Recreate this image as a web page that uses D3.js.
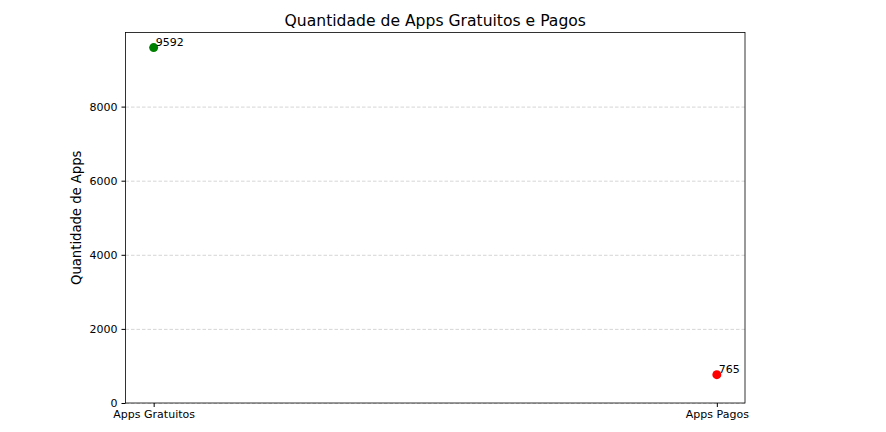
<!DOCTYPE html>
<html>
<head>
<meta charset="utf-8">
<script src="https://cdn.jsdelivr.net/npm/d3@7"></script>
<style>
  body { margin: 0; background: #fff; }
  text { font-family: "DejaVu Sans", sans-serif; }
  .grid line { stroke: #ccc; stroke-dasharray: 3.5,2; stroke-width: 0.8; }
  .grid .domain { display: none; }
</style>
</head>
<body>
<div id="chart"></div>
<script>
// Data
const categories = ["Apps Gratuitos", "Apps Pagos"];
const counts = [9592, 765];
const colors = ["green", "red"];
const yTicks = [0, 2000, 4000, 6000, 8000];

const margin = { top: 32.5, right: 141, bottom: 29, left: 125.5 },
    width = 886 - margin.left - margin.right,
    height = 432 - margin.top - margin.bottom;

const svg = d3.select("#chart")
    .append("svg")
    .attr("width", 886)
    .attr("height", 432)
    .append("g")
    .attr("transform", `translate(${margin.left},${margin.top})`);

// X: categorical positions 0,1 with 5% margins
const x = d3.scaleLinear()
    .domain([-0.05, 1.05])
    .range([0, width]);

const y = d3.scaleLinear()
    .domain([0, 10000])
    .range([height, 0]);

// grid
svg.append("g")
    .attr("class", "grid")
    .call(d3.axisLeft(y).tickValues(yTicks).tickSize(-width).tickFormat(""));

// y axis
const yAxis = svg.append("g")
    .call(d3.axisLeft(y).tickValues(yTicks).tickSize(4).tickPadding(4).tickFormat(d3.format("d")));
yAxis.selectAll("text").style("font-size", "11px").attr("fill", "#000");
yAxis.select(".domain").remove();

// x axis
const xAxis = svg.append("g")
    .attr("transform", `translate(0, ${height})`)
    .call(d3.axisBottom(x).tickValues([0, 1]).tickSize(4).tickPadding(3.5).tickFormat(i => categories[i]));
xAxis.selectAll("text").style("font-size", "11px").attr("fill", "#000");
xAxis.select(".domain").remove();

// frame
svg.append("rect")
    .attr("width", width)
    .attr("height", height)
    .attr("fill", "none")
    .attr("stroke", "#000")
    .attr("stroke-width", 0.8);

// points
svg.selectAll("circle")
    .data(counts)
    .enter()
    .append("circle")
    .attr("cx", (d, i) => x(i))
    .attr("cy", d => y(d))
    .attr("r", 4.5)
    .attr("fill", (d, i) => colors[i]);

// labels
svg.selectAll(".lbl")
    .data(counts)
    .enter()
    .append("text")
    .attr("class", "lbl")
    .attr("x", (d, i) => x(i) + 2)
    .attr("y", d => y(d) - 2)
    .style("font-size", "11px")
    .text(d => d);

// title
svg.append("text")
    .attr("x", width / 2)
    .attr("y", -7)
    .attr("text-anchor", "middle")
    .style("font-size", "15.6px")
    .text("Quantidade de Apps Gratuitos e Pagos");

// y label
svg.append("text")
    .attr("transform", "rotate(-90)")
    .attr("x", -height / 2)
    .attr("y", -45)
    .attr("text-anchor", "middle")
    .style("font-size", "13.2px")
    .text("Quantidade de Apps");
</script>
</body>
</html>
